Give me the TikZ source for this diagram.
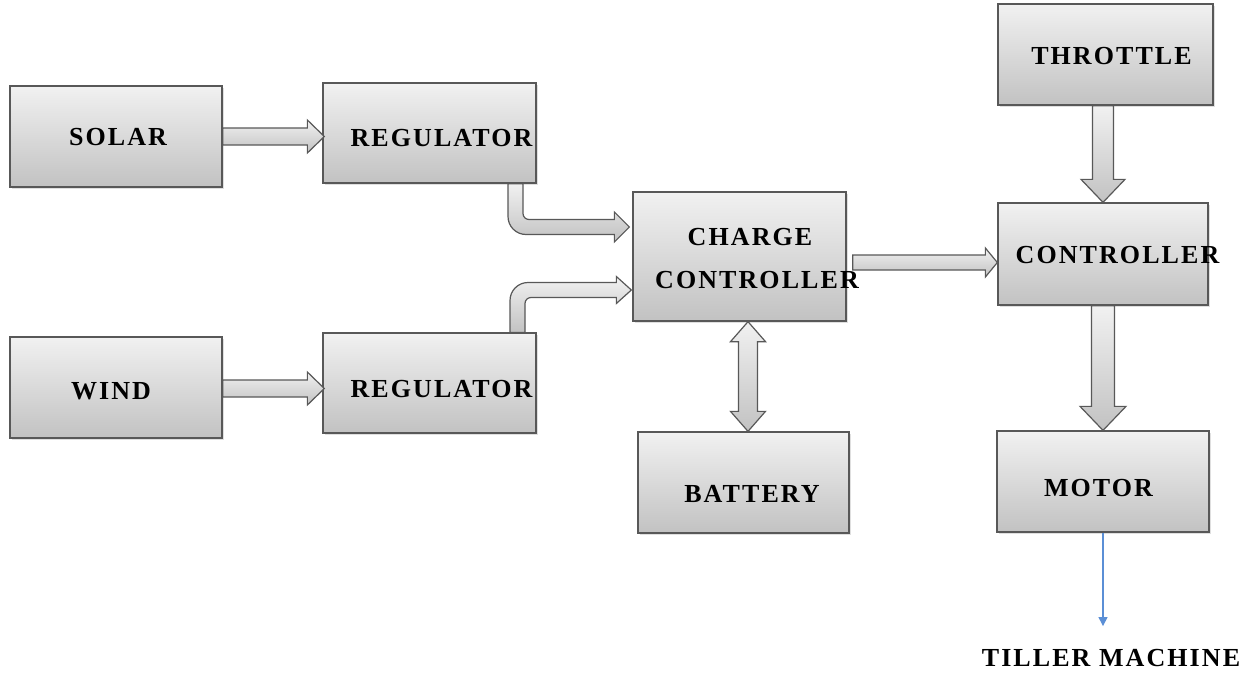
\documentclass[tikz,border=0pt]{standalone}
\usepackage{fontspec}
\newfontfamily\blockfont{Liberation Serif}[LetterSpace=8]
\usetikzlibrary{calc,shadows,arrows.meta}

\definecolor{boxtop}{RGB}{241,241,241}
\definecolor{boxbot}{RGB}{194,194,194}
\definecolor{edge}{RGB}{88,88,88}
\definecolor{tillerblue}{RGB}{91,143,214}

% block arrows: start, tip, half body, half head, head length
\newcommand{\harrow}[5]{%
  \path[blk] let \p1=#1, \p2=#2 in
    (\x1,\y2+#3) -- (\x2-#5,\y2+#3) -- (\x2-#5,\y2+#4) -- (\x2,\y2)
    -- (\x2-#5,\y2-#4) -- (\x2-#5,\y2-#3) -- (\x1,\y2-#3) -- cycle;}
\newcommand{\varrow}[5]{%
  \path[blk] let \p1=#1, \p2=#2 in
    (\x2-#3,\y1) -- (\x2-#3,\y2+#5) -- (\x2-#4,\y2+#5) -- (\x2,\y2)
    -- (\x2+#4,\y2+#5) -- (\x2+#3,\y2+#5) -- (\x2+#3,\y1) -- cycle;}
\newcommand{\vdarrow}[5]{%
  \path[blk] let \p1=#1, \p2=#2 in
    (\x1,\y1) -- (\x1+#4,\y1-#5) -- (\x1+#3,\y1-#5) -- (\x1+#3,\y2+#5)
    -- (\x1+#4,\y2+#5) -- (\x1,\y2) -- (\x1-#4,\y2+#5) -- (\x1-#3,\y2+#5)
    -- (\x1-#3,\y1-#5) -- (\x1-#4,\y1-#5) -- cycle;}

\begin{document}
\begin{tikzpicture}[x=1pt,y=-1pt,
    box/.style={draw=edge, line width=1.3pt, top color=boxtop, bottom color=boxbot,
      minimum width=212pt, minimum height=101pt, inner sep=0pt,
      drop shadow={shadow xshift=1.5pt, shadow yshift=-1.5pt, opacity=0.25}},
    txt/.style={font=\blockfont\bfseries\fontsize{26}{43}\selectfont, inner sep=0pt, align=center},
    blk/.style={draw=edge, line width=1.2pt, top color=boxtop, bottom color=boxbot},
    thinarr/.style={draw=tillerblue, line width=1.3pt, -{Triangle[length=9pt,width=9pt]}}]
    \useasboundingbox (0,0) rectangle (1253,675);

    \node[box, label={[txt, xshift=2pt, yshift=-0.5pt]center:SOLAR}] (solar) at (116,136.5) {};
    \node[box, minimum width=213pt, minimum height=100pt, label={[txt, xshift=12pt, yshift=-5pt]center:REGULATOR}] (reg1) at (429.5,133) {};
    \node[box, label={[txt, xshift=-5pt, yshift=-4pt]center:WIND}] (wind) at (116,387.5) {};
    \node[box, minimum width=213pt, minimum height=100pt, label={[txt, xshift=12pt, yshift=-6pt]center:REGULATOR}] (reg2) at (429.5,383) {};
    \node[box, minimum width=213pt, minimum height=129pt, label={[txt, xshift=14pt, yshift=-2.5pt]center:CHARGE\kern7pt\\\kern7pt CONTROLLER}] (cc) at (739.5,256.5) {};
    \node[box, minimum width=211pt, label={[txt, xshift=8.5pt, yshift=-11.5pt]center:BATTERY}] (bat) at (743.5,482.5) {};
    \node[box, minimum width=215pt, label={[txt, xshift=6pt, yshift=-1.5pt]center:THROTTLE}] (thr) at (1105.5,54.5) {};
    \node[box, minimum width=210pt, minimum height=102pt, label={[txt, xshift=14.5pt, yshift=-1pt]center:CONTROLLER}] (ctrl) at (1103,254) {};
    \node[box, label={[txt, xshift=-4.5pt, yshift=-6.5pt]center:MOTOR}] (motor) at (1103,481.5) {};
    \node[txt] (tiller) at (1111,658) {TILLER MACHINE};

    \harrow{(solar.east)}{($(solar.east -| reg1.west)+(2,0)$)}{8.5pt}{16.5pt}{17pt}
    \harrow{($(wind.east)+(0,1)$)}{($(wind.east -| reg2.west)+(2,1)$)}{8.5pt}{16.5pt}{17pt}

    % bent arrows into the charge controller
    \path[blk] let \p1=($(reg1.south)+(86,0)$), \p2=($(cc.west)+(-3,-29.5)$) in
      (\x1-7.5pt,\y1) -- (\x1-7.5pt,\y2+10.5pt) arc[start angle=180,end angle=270,radius=18pt]
      -- (\x2-15pt,\y2-7.5pt) -- (\x2-15pt,\y2-15pt) -- (\x2,\y2) -- (\x2-15pt,\y2+15pt)
      -- (\x2-15pt,\y2+7.5pt) -- (\x1+13.5pt,\y2+7.5pt) arc[start angle=270,end angle=180,radius=6pt]
      -- (\x1+7.5pt,\y1) -- cycle;
    \path[blk] let \p1=($(reg2.north)+(88,0)$), \p2=($(cc.west)+(-1,33.5)$) in
      (\x1-7.5pt,\y1) -- (\x1-7.5pt,\y2-10.5pt) arc[start angle=180,end angle=90,radius=18pt]
      -- (\x2-15pt,\y2+7.5pt) -- (\x2-15pt,\y2+13.5pt) -- (\x2,\y2) -- (\x2-15pt,\y2-13.5pt)
      -- (\x2-15pt,\y2-7.5pt) -- (\x1+13.5pt,\y2-7.5pt) arc[start angle=90,end angle=180,radius=6pt]
      -- (\x1+7.5pt,\y1) -- cycle;

    \harrow{($(cc.east)+(6,6)$)}{($(ctrl.west |- cc.east)+(0,6)$)}{7.5pt}{14.5pt}{12pt}
    \vdarrow{($(cc.south)+(8.5,0)$)}{($(bat.north)+(4.5,0)$)}{9.5pt}{17.5pt}{20pt}
    \varrow{(thr.south)}{(ctrl.north)}{10.5pt}{22pt}{23pt}
    \varrow{(ctrl.south)}{(motor.north)}{11.5pt}{23pt}{24pt}

    \draw[thinarr] (motor.south) -- ([yshift=23pt]motor.south |- tiller.north);
\end{tikzpicture}
\end{document}
